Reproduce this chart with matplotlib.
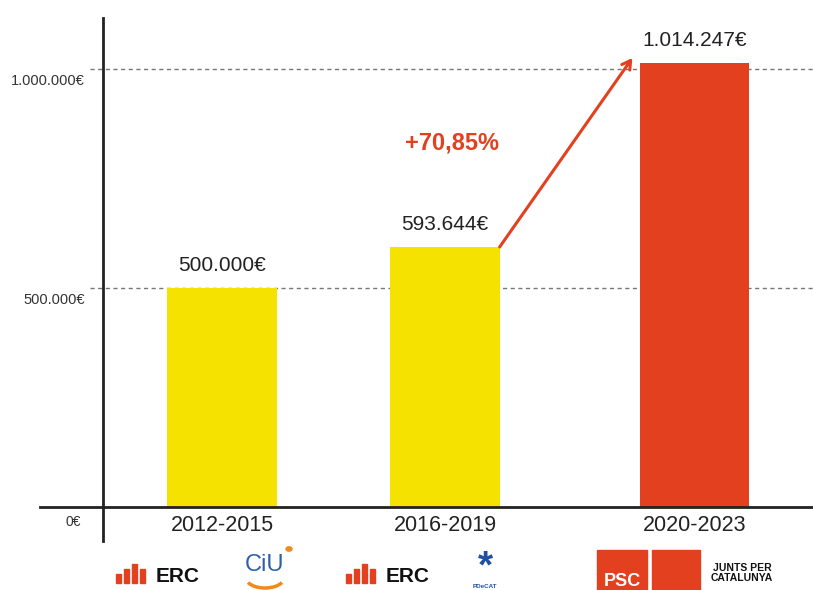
import matplotlib.pyplot as plt
from matplotlib.lines import Line2D
from matplotlib.patches import Rectangle, Arc, Circle

plt.rcParams['font.family'] = ['Liberation Sans', 'DejaVu Sans']

periods = ['2012-2015', '2016-2019', '2020-2023']
amounts = [500000, 593644, 1014247]
amount_labels = ['500.000€', '593.644€', '1.014.247€']
increase_label = '+70,85%'
ytick_vals = [1000000, 500000]
ytick_labels = ['1.000.000€', '500.000€']

positions = [0, 1, 2.12]
yellow = '#f6e200'
red = '#e2401f'
colors = [yellow, yellow, red]

W, H = 813, 590
fig = plt.figure(figsize=(W / 100, H / 100), dpi=100)
# axes: left edge at 40px, baseline at 507px from top
ax = fig.add_axes([40 / W, (H - 507) / H, 1 - 40 / W, 507 / H])
ax.set_xlim(-0.816, 2.65)
ax.set_ylim(0, 1157500)
for s in ['top', 'right', 'left']:
  ax.spines[s].set_visible(False)
ax.spines['bottom'].set_linewidth(2)
ax.spines['bottom'].set_color('#222222')
ax.set_yticks([])
ax.set_xticks([])

# dashed reference lines
for v in ytick_vals:
  ax.plot([-0.59, 2.65], [v, v], color='#777777', lw=1, ls=(0, (3, 2.5)), zorder=1)

ax.bar(positions, amounts, width=0.49, color=colors, zorder=2)

for x, v, lab in zip(positions, amounts, amount_labels):
  ax.annotate(lab, (x, v), xytext=(0, 9), textcoords='offset points',
              ha='center', va='bottom', fontsize=15, color='#222222')

# y labels sit slightly below their lines
for v, lab in zip(ytick_vals, ytick_labels):
  ax.annotate(lab, (-0.615, v), xytext=(0, -9), textcoords='offset points',
              ha='right', va='center', fontsize=10.5, color='#333333')
ax.annotate('0€', (-0.63, 0), xytext=(0, -11), textcoords='offset points',
            ha='right', va='center', fontsize=10, color='#333333')

for x, p in zip(positions, periods):
  ax.annotate(p, (x, 0), xytext=(0, -6), textcoords='offset points',
              ha='center', va='top', fontsize=15.5, color='#222222',
              annotation_clip=False)

# growth arrow
ax.annotate('', xy=(1.84, 1025000), xytext=(1.245, amounts[1]),
            arrowprops=dict(arrowstyle='->,head_length=0.6,head_width=0.35',
                            color=red, lw=2.2, shrinkA=0, shrinkB=0))
ax.text(1.03, 830000, increase_label, color=red, fontsize=17,
        fontweight='bold', ha='center', va='center')

# vertical axis line extending below the baseline
fig.add_artist(Line2D([103 / W, 103 / W], [1 - 18 / H, 1 - 541 / H],
                      color='#222222', lw=2))

# party logos (rough)
def fx(px):
  return px / W

def fy(py):
  return 1 - py / H

def erc(x0):
  for i, h in enumerate([9, 14, 19, 14]):
    fig.add_artist(Rectangle((fx(x0 + i * 8), fy(583)), 4.5 / W, h / H,
                             color=red, transform=fig.transFigure))
  fig.text(fx(x0 + 40), fy(576), 'ERC', fontsize=15, fontweight='bold',
           color='#111111', ha='left', va='center')

erc(116)
fig.text(fx(264), fy(565), 'CiU', fontsize=17, color='#2d5fa8',
         ha='center', va='center')
fig.add_artist(Arc((fx(265), fy(578)), 38 / W, 20 / H, theta1=200, theta2=340,
                   color='#f08a1c', lw=2.5, transform=fig.transFigure))
fig.add_artist(Circle((fx(289), fy(549)), 3 / W, color='#f08a1c',
                      transform=fig.transFigure))
erc(346)
fig.text(fx(485), fy(567), '*', fontsize=28, fontweight='bold', color='#1f4fa0',
         ha='center', va='center')
fig.text(fx(485), fy(586), 'PDeCAT', fontsize=4.5, fontweight='bold',
         color='#1f4fa0', ha='center', va='center')

fig.add_artist(Rectangle((fx(597), fy(592)), 50 / W, 42 / H, color=red,
                         transform=fig.transFigure))
fig.text(fx(622), fy(582), 'PSC', fontsize=13, fontweight='bold', color='white',
         ha='center', va='center')
fig.add_artist(Rectangle((fx(652), fy(592)), 48 / W, 42 / H, color=red,
                         transform=fig.transFigure))
fig.text(fx(742), fy(573), 'JUNTS PER\nCATALUNYA', fontsize=7.5, fontweight='bold',
         color='#111111', ha='center', va='center', linespacing=0.9)

plt.savefig('out.png', dpi=100)
